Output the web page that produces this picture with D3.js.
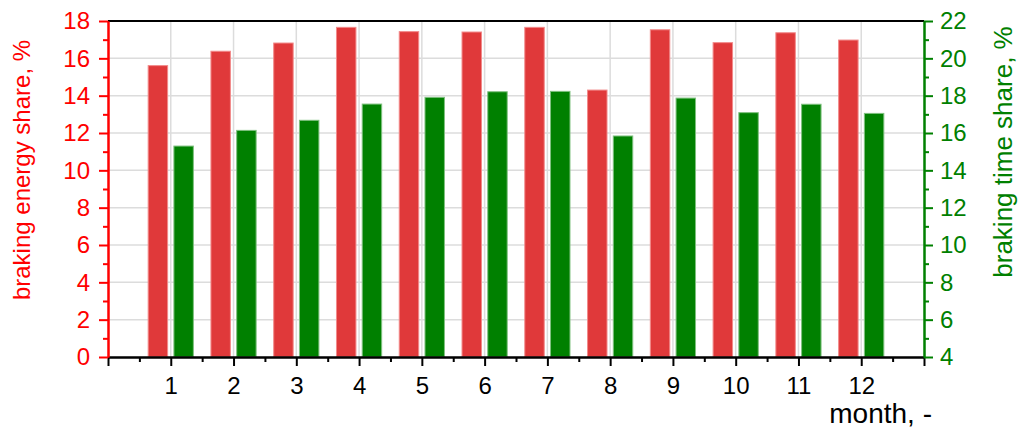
<!DOCTYPE html>
<html lang="en">
<head>
<meta charset="UTF-8">
<title>Braking share by month</title>
<script src="https://d3js.org/d3.v7.min.js"></script>
<style>
  body { margin: 0; background: #fff; }
  text { font-family: "Liberation Sans", Arial, sans-serif; }
</style>
</head>
<body>
<svg width="1019" height="428"></svg>
<script>
// data
var months = [1, 2, 3, 4, 5, 6, 7, 8, 9, 10, 11, 12];
var energyShare = [15.61, 16.38, 16.82, 17.66, 17.43, 17.41, 17.66, 14.30, 17.53, 16.84, 17.37, 16.98];
var timeShare = [15.30, 16.14, 16.68, 17.55, 17.91, 18.21, 18.23, 15.84, 17.87, 17.09, 17.54, 17.05];
var leftTicks = [0, 2, 4, 6, 8, 10, 12, 14, 16, 18];
var rightTicks = [4, 6, 8, 10, 12, 14, 16, 18, 20, 22];

var plotL = 108, plotR = 924, plotT = 21, plotB = 357;
var red = "#ff0000", green = "#008000";

var svg = d3.select("svg");

var x = d3.scaleLinear().domain([0, 13]).range([plotL, plotR]);
var yL = d3.scaleLinear().domain([0, 18]).range([plotB, plotT]);
var yR = d3.scaleLinear().domain([4, 22]).range([plotB, plotT]);

// grid
svg.append("g").selectAll("line")
   .data(leftTicks.slice(1, -1))
   .enter().append("line")
   .attr("x1", plotL).attr("x2", plotR)
   .attr("y1", function(d) { return yL(d); })
   .attr("y2", function(d) { return yL(d); })
   .attr("stroke", "#dcdcdc").attr("stroke-width", 1.5);

svg.append("g").selectAll("line")
   .data(months)
   .enter().append("line")
   .attr("x1", function(d) { return x(d); })
   .attr("x2", function(d) { return x(d); })
   .attr("y1", plotT).attr("y2", plotB)
   .attr("stroke", "#dcdcdc").attr("stroke-width", 1.5);

// bars
var bw = x(0.31) - x(0);
var gap = x(0.05) - x(0);

svg.append("g").selectAll("rect")
   .data(months)
   .enter().append("rect")
   .attr("x", function(d) { return x(d) - gap - bw; })
   .attr("width", bw)
   .attr("y", function(d, i) { return yL(energyShare[i]); })
   .attr("height", function(d, i) { return yL(0) - yL(energyShare[i]); })
   .attr("fill", "#e0393a")
   .attr("stroke", "#f28a8a").attr("stroke-width", 1);

svg.append("g").selectAll("rect")
   .data(months)
   .enter().append("rect")
   .attr("x", function(d) { return x(d) + gap; })
   .attr("width", bw)
   .attr("y", function(d, i) { return yR(timeShare[i]); })
   .attr("height", function(d, i) { return yR(4) - yR(timeShare[i]); })
   .attr("fill", "#008000")
   .attr("stroke", "#7fc07f").attr("stroke-width", 1);

// top border
svg.append("line")
   .attr("x1", plotL).attr("x2", plotR)
   .attr("y1", plotT).attr("y2", plotT)
   .attr("stroke", "#000").attr("stroke-width", 2);

function styleAxis(g, color) {
    g.select(".domain").attr("stroke", color).attr("stroke-width", 2);
    g.selectAll(".tick line").attr("stroke", color).attr("stroke-width", 2);
    g.selectAll(".tick text").attr("fill", color)
     .style("font-family", "'Liberation Sans', Arial, sans-serif")
     .style("font-size", "24px");
}

// bottom axis
var xMinor = svg.append("g")
   .attr("transform", "translate(0," + plotB + ")")
   .call(d3.axisBottom(x).tickValues(d3.range(0.5, 13, 1)).tickSize(5).tickFormat("").tickSizeOuter(0));
styleAxis(xMinor, "#000");
var xMajor = svg.append("g")
   .attr("transform", "translate(0," + plotB + ")")
   .call(d3.axisBottom(x).tickValues(d3.range(0, 14, 1)).tickSize(9).tickSizeOuter(0)
         .tickPadding(11)
         .tickFormat(function(d) { return months.indexOf(d) >= 0 ? d : ""; }));
styleAxis(xMajor, "#000");

// left axis
var lMinor = svg.append("g")
   .attr("transform", "translate(" + plotL + ",0)")
   .call(d3.axisLeft(yL).tickValues(d3.range(1, 18, 2)).tickSize(5).tickFormat("").tickSizeOuter(0));
styleAxis(lMinor, red);
var lMajor = svg.append("g")
   .attr("transform", "translate(" + plotL + ",0)")
   .call(d3.axisLeft(yL).tickValues(leftTicks).tickSize(9).tickPadding(9).tickSizeOuter(0));
styleAxis(lMajor, red);

// right axis
var rMinor = svg.append("g")
   .attr("transform", "translate(" + plotR + ",0)")
   .call(d3.axisRight(yR).tickValues(d3.range(5, 22, 2)).tickSize(5).tickFormat("").tickSizeOuter(0));
styleAxis(rMinor, green);
var rMajor = svg.append("g")
   .attr("transform", "translate(" + plotR + ",0)")
   .call(d3.axisRight(yR).tickValues(rightTicks).tickSize(9).tickPadding(7).tickSizeOuter(0));
styleAxis(rMajor, green);

// titles
svg.append("text")
   .attr("transform", "translate(30,170) rotate(-90)")
   .attr("text-anchor", "middle")
   .attr("fill", red)
   .style("font-size", "24px")
   .text("braking energy share, %");

svg.append("text")
   .attr("transform", "translate(1012,152) rotate(-90)")
   .attr("text-anchor", "middle")
   .attr("fill", green)
   .style("font-size", "26px")
   .text("braking time share, %");

svg.append("text")
   .attr("x", 932).attr("y", 423)
   .attr("text-anchor", "end")
   .attr("fill", "#000")
   .style("font-size", "28px")
   .text("month, -");
</script>
</body>
</html>
